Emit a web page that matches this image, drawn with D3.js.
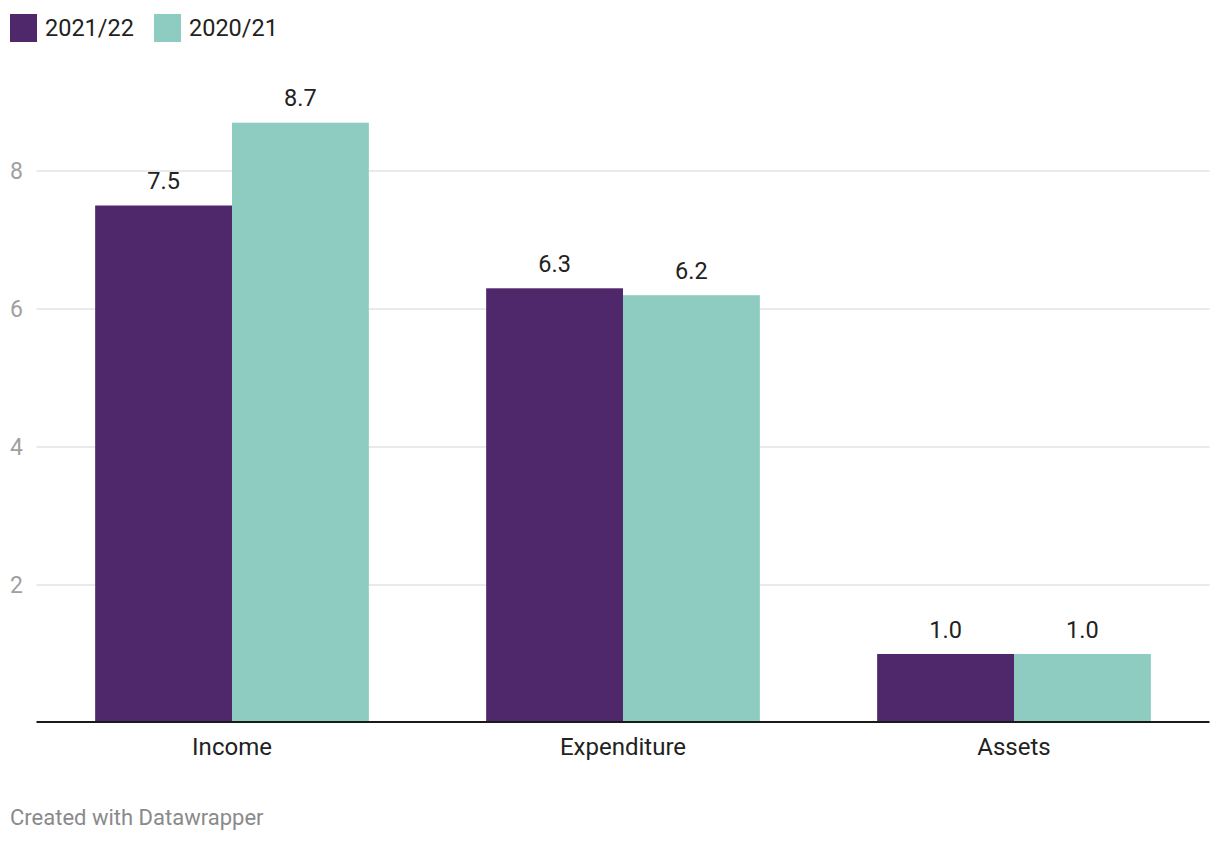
<!DOCTYPE html>
<html><head><meta charset="utf-8">
<script src="https://cdn.jsdelivr.net/npm/d3@7"></script>
<style>body{margin:0;background:#fff;font-family:Roboto,sans-serif;}</style>
</head><body><svg id="c" width="1220" height="844"></svg>
<script>
const categories = ["Income", "Expenditure", "Assets"];
const seriesNames = ["2021/22", "2020/21"];
const values2122 = [7.5, 6.3, 1.0];
const values2021 = [8.7, 6.2, 1.0];
const yTicks = [2, 4, 6, 8];
const colors = ["#4f276b", "#8ecbc1"];

const svg = d3.select("#c");
const left = 36.5, right = 1209.5, y0 = 723, y8 = 171;
const x = d3.scaleBand().domain(categories).range([left, right]).paddingInner(0.3).paddingOuter(0.15);
const y = d3.scaleLinear().domain([0, 8]).range([y0, y8]);
const xs = d3.scaleBand().domain(seriesNames).range([0, x.bandwidth()]);

// grid
const grid = svg.append("g");
grid.selectAll("line").data(yTicks).join("line")
  .attr("x1", left).attr("x2", right)
  .attr("y1", d => y(d)).attr("y2", d => y(d))
  .attr("stroke", "#e3e3e3").attr("stroke-width", 1.5);
grid.selectAll("text").data(yTicks).join("text")
  .attr("x", 10).attr("y", d => y(d)).attr("dy", "0.36em")
  .attr("fill", "#a0a0a0").attr("font-size", 23).text(d => d);

const data = categories.map((c, i) => ({c, vals: [values2122[i], values2021[i]]}));
const g = svg.append("g").selectAll("g").data(data).join("g")
  .attr("transform", d => `translate(${x(d.c)},0)`);
g.selectAll("rect").data(d => d.vals.map((v, j) => ({v, s: seriesNames[j], j}))).join("rect")
  .attr("x", d => xs(d.s)).attr("width", xs.bandwidth())
  .attr("y", d => y(d.v)).attr("height", d => y(0) - y(d.v))
  .attr("fill", d => colors[d.j]);
g.selectAll("text").data(d => d.vals.map((v, j) => ({v, s: seriesNames[j], j}))).join("text")
  .attr("x", d => xs(d.s) + xs.bandwidth() / 2).attr("y", d => y(d.v) - 16.5)
  .attr("text-anchor", "middle").attr("font-size", 23.5).attr("fill", "#222")
  .text(d => d.v.toFixed(1));

// baseline
svg.append("line").attr("x1", left).attr("x2", right).attr("y1", y(0) - 1).attr("y2", y(0) - 1)
  .attr("stroke", "#1a1a1a").attr("stroke-width", 2);

// x labels
svg.append("g").selectAll("text").data(categories).join("text")
  .attr("x", d => x(d) + x.bandwidth() / 2).attr("y", 755)
  .attr("text-anchor", "middle").attr("font-size", 24).attr("fill", "#222").text(d => d);

// legend
const leg = svg.append("g");
const legX = [10, 154];
seriesNames.forEach((s, i) => {
  leg.append("rect").attr("x", legX[i]).attr("y", 14).attr("width", 27).attr("height", 28).attr("fill", colors[i]);
  leg.append("text").attr("x", legX[i] + 35).attr("y", 28).attr("dy", "0.36em")
    .attr("font-size", 23.5).attr("fill", "#222").text(s);
});

svg.append("text").attr("x", 10).attr("y", 825).attr("font-size", 22).attr("fill", "#8a8a8a").text("Created with Datawrapper");
</script></body></html>
